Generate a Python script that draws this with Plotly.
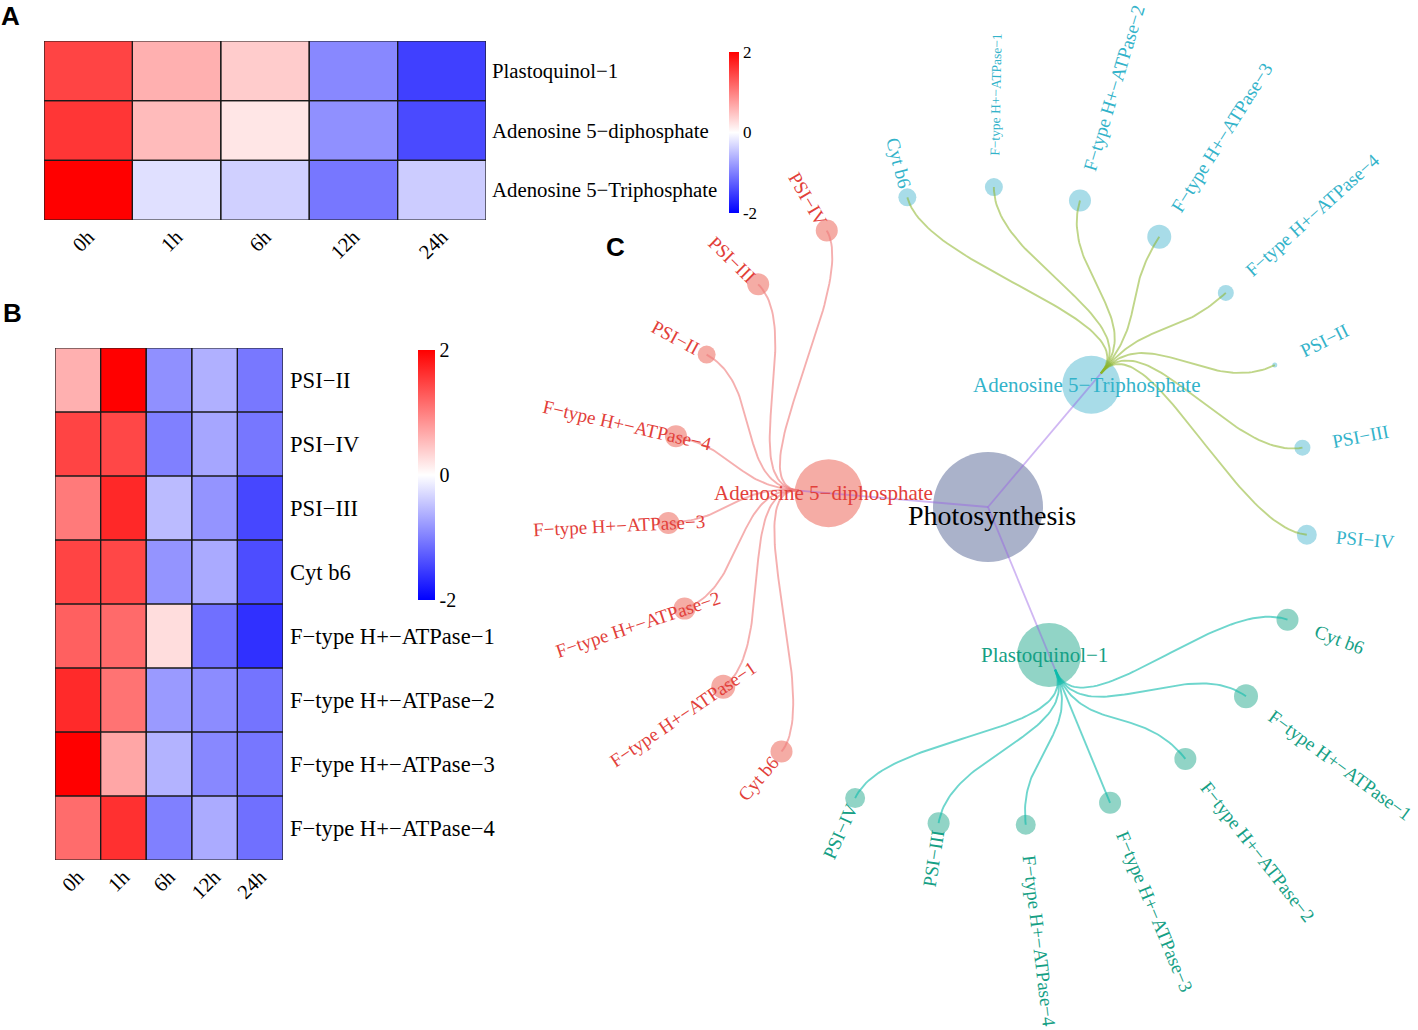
import math
import plotly.graph_objects as go

# ---------------- data ----------------
time_points = ["0h", "1h", "6h", "12h", "24h"]

metabolites = ["Plastoquinol−1", "Adenosine 5−diphosphate", "Adenosine 5−Triphosphate"]
metab_z_plastoquinol = [1.47, 0.62, 0.40, -0.93, -1.50]
metab_z_adp = [1.58, 0.53, 0.20, -0.87, -1.42]
metab_z_atp = [2.00, -0.24, -0.37, -1.07, -0.40]

proteins = ["PSI−II", "PSI−IV", "PSI−III", "Cyt b6",
            "F−type H+−ATPase−1", "F−type H+−ATPase−2",
            "F−type H+−ATPase−3", "F−type H+−ATPase−4"]
prot_z_psi2 = [0.62, 2.00, -0.87, -0.62, -1.06]
prot_z_psi4 = [1.47, 1.44, -1.00, -0.70, -1.07]
prot_z_psi3 = [1.04, 1.69, -0.53, -0.84, -1.44]
prot_z_cytb6 = [1.47, 1.44, -0.84, -0.67, -1.40]
prot_z_atpase1 = [1.25, 1.17, 0.27, -1.12, -1.62]
prot_z_atpase2 = [1.67, 1.10, -0.79, -0.90, -1.09]
prot_z_atpase3 = [2.00, 0.70, -0.60, -0.93, -1.07]
prot_z_atpase4 = [1.15, 1.62, -1.00, -0.66, -1.12]

colorbar_ticks = [-2, 0, 2]

# network (circular dendrogram): root -> metabolites -> proteins
network_root = "Photosynthesis"
hub_names = ["Adenosine 5−Triphosphate", "Plastoquinol−1", "Adenosine 5−diphosphate"]
atp_targets = ["Cyt b6", "F−type H+−ATPase−1", "F−type H+−ATPase−2", "F−type H+−ATPase−3",
               "F−type H+−ATPase−4", "PSI−II", "PSI−III", "PSI−IV"]
pq_targets = ["Cyt b6", "F−type H+−ATPase−1", "F−type H+−ATPase−2", "F−type H+−ATPase−3",
              "F−type H+−ATPase−4", "PSI−III", "PSI−IV"]
adp_targets = ["Cyt b6", "F−type H+−ATPase−1", "F−type H+−ATPase−2", "F−type H+−ATPase−3",
               "F−type H+−ATPase−4", "PSI−II", "PSI−III", "PSI−IV"]
atp_target_weight = [9, 9, 11, 12, 8, 2.5, 8, 10]
pq_target_weight = [11, 12, 11, 11, 10, 11, 10]
adp_target_weight = [11, 12, 11, 11, 11, 9, 11, 11]
hub_weight = [29, 32, 34]
root_weight = 55

# ---------------- style / layout ----------------
W, H = 1418, 1030
SERIF = "Liberation Serif"
SANS = "Liberation Sans"
CS = [[0, "rgb(0,0,255)"], [0.5, "rgb(255,255,255)"], [1, "rgb(255,0,0)"]]

ROOT_PX = (988.0, 507.0)
R_HUB = 160.0
R_LEAF = 320.0
R_EDGE_START = [175.0, 176.0, 190.0]
R_LABEL = 350.0
LEAF_START_ANGLE = -104.6
LEAF_FONT = 19

hub_fill = ["#A8DCE8", "#91D4C6", "#F5ACA5"]
hub_text = ["#33B3CA", "#15A085", "#E2403A"]
hub_edge = ["rgba(140,180,40,0.55)", "rgba(13,187,172,0.6)", "rgba(238,122,122,0.6)"]
root_fill = "#AAB2CA"
root_edge = "rgba(150,95,228,0.45)"

TIMES_W = {'F': 0.556, '−': 0.564, '-': 0.333, 't': 0.278, 'y': 0.5, 'p': 0.5, 'e': 0.444,
           ' ': 0.25, 'H': 0.722, '+': 0.564, 'A': 0.722, 'T': 0.611, 'P': 0.556, 'a': 0.444,
           's': 0.389, 'S': 0.556, 'I': 0.333, 'V': 0.722, 'C': 0.667, 'b': 0.5}


def text_w(s, size):
    return sum(TIMES_W.get(ch, 0.5) for ch in s) * size


def pol(r, ang):
    a = math.radians(ang)
    return (ROOT_PX[0] + r * math.cos(a), ROOT_PX[1] + r * math.sin(a))


def cubic(p0, p1, p2, p3, n=60):
    xs, ys = [], []
    for k in range(n + 1):
        t = k / n
        a, b, c, d = (1 - t) ** 3, 3 * (1 - t) ** 2 * t, 3 * (1 - t) * t ** 2, t ** 3
        xs.append(a * p0[0] + b * p1[0] + c * p2[0] + d * p3[0])
        ys.append(a * p0[1] + b * p1[1] + c * p2[1] + d * p3[1])
    return xs, ys


fig = go.Figure()

# ---------------- heatmap A ----------------
zA = [metab_z_plastoquinol, metab_z_adp, metab_z_atp]
fig.add_trace(go.Heatmap(
    z=zA, x=list(range(len(time_points))), y=list(range(len(metabolites))),
    colorscale=CS, zmin=-2, zmax=2, xaxis="x", yaxis="y", hoverinfo="skip",
    colorbar=dict(x=729 / W, xanchor="left", y=1 - 132.5 / H, yanchor="middle",
                  len=161, lenmode="pixels", thickness=10, thicknessmode="pixels",
                  xpad=0, ypad=0, outlinewidth=0, ticks="", tickvals=colorbar_ticks,
                  ticktext=[str(v) for v in colorbar_ticks],
                  tickfont=dict(family=SERIF, size=17, color="black"))))

# ---------------- heatmap B ----------------
zB = [prot_z_psi2, prot_z_psi4, prot_z_psi3, prot_z_cytb6,
      prot_z_atpase1, prot_z_atpase2, prot_z_atpase3, prot_z_atpase4]
fig.add_trace(go.Heatmap(
    z=zB, x=list(range(len(time_points))), y=list(range(len(proteins))),
    colorscale=CS, zmin=-2, zmax=2, xaxis="x2", yaxis="y2", hoverinfo="skip",
    colorbar=dict(x=418 / W, xanchor="left", y=1 - 475 / H, yanchor="middle",
                  len=250, lenmode="pixels", thickness=17, thicknessmode="pixels",
                  xpad=0, ypad=0, outlinewidth=0, ticks="", tickvals=colorbar_ticks,
                  ticktext=[str(v) for v in colorbar_ticks],
                  tickfont=dict(family=SERIF, size=20, color="black"))))

shapes = []
for xr, yr, nr in (("x", "y", len(metabolites)), ("x2", "y2", len(proteins))):
    for i in range(len(time_points)):
        for j in range(nr):
            shapes.append(dict(type="rect", xref=xr, yref=yr, x0=i - 0.5, x1=i + 0.5,
                               y0=j - 0.5, y1=j + 0.5, line=dict(color="#1a1a1a", width=1.2),
                               fillcolor="rgba(0,0,0,0)", layer="above"))

# ---------------- network ----------------
targets = [atp_targets, pq_targets, adp_targets]
weights = [atp_target_weight, pq_target_weight, adp_target_weight]
step = 360.0 / sum(len(t) for t in targets)

node_x, node_y, node_s, node_c = [ROOT_PX[0]], [ROOT_PX[1]], [2 * root_weight], [root_fill]
annotations = []
edge_traces = []
root_ex, root_ey = [], []
idx = 0
for h, name in enumerate(hub_names):
    angs = [LEAF_START_ANGLE + (idx + k) * step for k in range(len(targets[h]))]
    idx += len(targets[h])
    th = sum(angs) / len(angs)
    hx, hy = pol(R_HUB, th)
    node_x.append(hx); node_y.append(hy); node_s.append(2 * hub_weight[h]); node_c.append(hub_fill[h])
    p0 = pol(R_EDGE_START[h], th)
    root_ex += [ROOT_PX[0], p0[0], None]
    root_ey += [ROOT_PX[1], p0[1], None]
    rm = (R_EDGE_START[h] + R_LEAF) / 2
    ex, ey = [], []
    for k, (lab, ang) in enumerate(zip(targets[h], angs)):
        lx, ly = pol(R_LEAF, ang)
        node_x.append(lx); node_y.append(ly); node_s.append(2 * weights[h][k]); node_c.append(hub_fill[h])
        xs, ys = cubic(p0, pol(rm, th), pol(rm, ang), (lx, ly))
        ex += xs + [None]; ey += ys + [None]
        # label
        squeezed = (h == 0 and lab == "F−type H+−ATPase−1")
        fs = 13.5 if squeezed else LEAF_FONT
        L = text_w(lab, fs)
        right = math.cos(math.radians(ang)) > 0
        rc = R_LABEL + L / 2 if right else R_LABEL + 0.11 * L
        tx, ty = pol(rc, ang)
        ta = ang if right else ang - 180
        while ta > 180: ta -= 360
        while ta < -180: ta += 360
        annotations.append(dict(x=tx, y=ty, xref="x3", yref="y3", text=lab, showarrow=False,
                                textangle=ta, xanchor="center", yanchor="middle",
                                font=dict(family=SERIF, size=fs, color=hub_text[h])))
    edge_traces.append(go.Scatter(x=ex, y=ey, mode="lines", xaxis="x3", yaxis="y3",
                                  line=dict(color=hub_edge[h], width=1.9), hoverinfo="skip",
                                  showlegend=False))
    annotations.append(dict(x=hx, y=hy, xref="x3", yref="y3", text=name, showarrow=False,
                            xanchor="center", yanchor="middle", xshift=-5,
                            font=dict(family=SERIF, size=21, color=hub_text[h])))

fig.add_trace(go.Scatter(x=node_x, y=node_y, mode="markers", xaxis="x3", yaxis="y3",
                         marker=dict(size=node_s, color=node_c, line=dict(width=0), opacity=1),
                         hoverinfo="skip", showlegend=False))
fig.add_trace(go.Scatter(x=root_ex, y=root_ey, mode="lines", xaxis="x3", yaxis="y3",
                         line=dict(color=root_edge, width=1.8), hoverinfo="skip", showlegend=False))
for tr in edge_traces:
    fig.add_trace(tr)

annotations.append(dict(x=ROOT_PX[0], y=ROOT_PX[1], xref="x3", yref="y3", text=network_root,
                        showarrow=False, xanchor="center", yanchor="middle", xshift=4, yshift=-8,
                        font=dict(family=SERIF, size=28, color="black")))

for letter, (px, py) in zip(["A", "B", "C"], [(10, 16), (12, 313), (615, 247)]):
    annotations.append(dict(x=px / W, y=1 - py / H, xref="paper", yref="paper", text="<b>%s</b>" % letter,
                            showarrow=False, xanchor="center", yanchor="middle",
                            font=dict(family=SANS, size=26, color="black")))

axis_common = dict(showgrid=False, zeroline=False, showline=False, ticks="", fixedrange=True)
fig.update_layout(
    width=W, height=H, margin=dict(l=0, r=0, t=0, b=0),
    paper_bgcolor="white", plot_bgcolor="rgba(0,0,0,0)", showlegend=False,
    font=dict(family=SERIF, color="black"),
    xaxis=dict(domain=[44 / W, 486 / W], range=[-0.5, 4.5], anchor="y",
               tickvals=list(range(len(time_points))), ticktext=time_points, tickangle=-45,
               tickfont=dict(family=SERIF, size=20.5, color="black"), **axis_common),
    yaxis=dict(domain=[1 - 220 / H, 1 - 41 / H], range=[len(metabolites) - 0.5, -0.5], anchor="x",
               side="right", tickvals=list(range(len(metabolites))), ticktext=metabolites,
               ticklabelstandoff=5,
               tickfont=dict(family=SERIF, size=20.8, color="black"), **axis_common),
    xaxis2=dict(domain=[55 / W, 283 / W], range=[-0.5, 4.5], anchor="y2",
                tickvals=list(range(len(time_points))), ticktext=time_points, tickangle=-45,
                tickfont=dict(family=SERIF, size=20.5, color="black"), **axis_common),
    yaxis2=dict(domain=[1 - 860 / H, 1 - 348 / H], range=[len(proteins) - 0.5, -0.5], anchor="x2",
                side="right", tickvals=list(range(len(proteins))), ticktext=proteins,
                ticklabelstandoff=6,
                tickfont=dict(family=SERIF, size=22.6, color="black"), **axis_common),
    xaxis3=dict(domain=[0, 1], range=[0, W], anchor="y3", visible=False, fixedrange=True),
    yaxis3=dict(domain=[0, 1], range=[H, 0], anchor="x3", visible=False, fixedrange=True),
    shapes=shapes, annotations=annotations,
)

fig.write_html("out.html", include_plotlyjs=True, config={"displayModeBar": False},
               post_script="document.body.style.margin='0';document.body.style.overflow='hidden';"
                           "document.documentElement.style.overflow='hidden';")
